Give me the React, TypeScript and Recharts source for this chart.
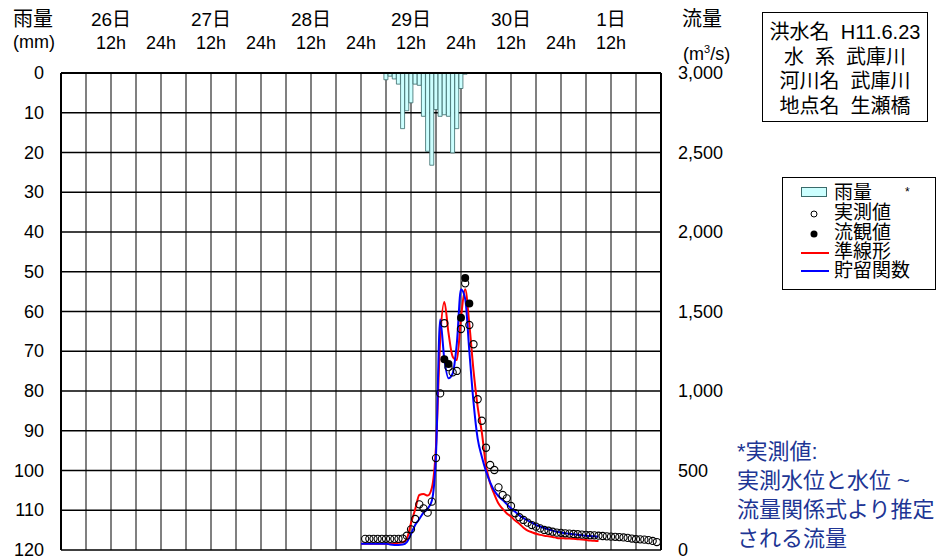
import React from 'react';
import { ComposedChart, Bar, Line, Scatter, XAxis, YAxis, CartesianGrid } from 'recharts';

// hours counted from 26日 0h
const dayLabels = ['26日', '27日', '28日', '29日', '30日', '1日'];
const xTicks = [0, 6, 12, 18, 24, 30, 36, 42, 48, 54, 60, 66, 72, 78, 84, 90, 96, 102, 108, 114, 120, 126, 132, 138, 144];
const rainTicks = [0, 10, 20, 30, 40, 50, 60, 70, 80, 90, 100, 110, 120];
const flowTicks = [0, 500, 1000, 1500, 2000, 2500, 3000];

// hourly rainfall (mm), from 29日 6h
const rainStartHour = 78;
const rainfall = [1.7, 0.8, 1.5, 2.8, 14, 9.5, 7.5, 2.8, 3.1, 10.9, 19.7, 23.2, 9.2, 10.9, 10.5, 10.9, 20.1, 14, 3.9, 0.3];

// 実測値 (m3/s), hourly
const obsStartHour = 73;
const observed = [
  70, 70, 70, 70, 70, 70, 70, 70, 70, 72,
  90, 130, 195, 287, 262, 235, 304, 578, 985, 1426,
  1150, 1117, 1126, 1390, 1677, 1415, 1294, 948, 813, 643,
  535, 503, 394, 346, 325, 277, 231, 206, 189, 172,
  157, 147, 136, 126, 121, 115, 109, 108, 105, 103,
  101, 99, 97, 95, 93, 92, 90, 88, 86, 84,
  83, 81, 79, 76, 72, 68, 67, 65, 62, 57, 50,
];

// 流観値
const gaugedHours = [92, 93, 96, 97, 98];
const gaugedFlow = [1200, 1170, 1460, 1710, 1550];

// computed hydrographs, hourly
const calcStartHour = 72;
const quasiLinear = [
  40, 40, 40, 40, 40, 40, 40, 40, 42, 45,
  48, 70, 170, 255, 346, 352, 342, 390, 650, 1320,
  1560, 1365, 1216, 1195, 1460, 1640, 1420, 1130, 900, 740,
  530, 420, 350, 292, 258, 230, 210, 185, 165, 140,
  122, 112, 102, 95, 90, 86, 82, 76, 74, 73,
  72, 70, 68, 66, 63, 60, 58, 56,
];
const storageFunc = [
  40, 40, 40, 40, 40, 40, 40, 34, 32, 32,
  34, 50, 100, 157, 195, 235, 260, 310, 600, 1450,
  1200, 1080, 1110, 1300, 1640, 1580, 1250, 930, 700, 587,
  495, 425, 372, 338, 314, 288, 262, 240, 218, 200,
  186, 172, 158, 148, 138, 130, 122, 115, 110, 106,
  102, 99, 96, 93, 90, 88, 86, 84,
];

const rows: any[] = quasiLinear.map((v, i) => ({ t: calcStartHour + i, red: v, blue: storageFunc[i] }));
rainfall.forEach((v, i) => {
  const row = rows.find((r) => r.t === rainStartHour + i);
  if (row) row.rain = v;
});

const obsData = observed.map((q, i) => ({ t: obsStartHour + i, q }));
const gaugedData = gaugedHours.map((t, i) => ({ t, q: gaugedFlow[i] }));

const FONT = '"Liberation Sans", Arial, "Noto Sans CJK JP", sans-serif';

const HourTick = (props: any) => {
  const { x, payload } = props;
  const v = payload.value;
  if (v % 12 !== 0 || v <= 0 || v >= 144) return <g />;
  const noon = v % 24 === 12;
  return (
    <g fontFamily={FONT} fill="#000">
      {noon && (
        <text x={x} y={19} textAnchor="middle" dominantBaseline="central" fontSize={19}>
          {dayLabels[(v - 12) / 24]}
        </text>
      )}
      <text x={x} y={43} textAnchor="middle" dominantBaseline="central" fontSize={18}>
        {noon ? '12h' : '24h'}
      </text>
    </g>
  );
};

const RainTick = (props: any) => (
  <text x={44} y={props.y} textAnchor="end" dominantBaseline="central" fontSize={18} fontFamily={FONT} fill="#000">
    {props.payload.value}
  </text>
);

const FlowTick = (props: any) => (
  <text x={678} y={props.y} textAnchor="start" dominantBaseline="central" fontSize={18} fontFamily={FONT} fill="#000">
    {props.payload.value.toLocaleString('en-US')}
  </text>
);

const HollowDot = (p: any) => <circle cx={p.cx} cy={p.cy} r={3.6} fill="none" stroke="#000" strokeWidth={1.1} />;
const SolidDot = (p: any) => <circle cx={p.cx} cy={p.cy} r={4} fill="#000" />;

const abs = (left: number, top: number, extra: any = {}) => ({ position: 'absolute' as const, left, top, ...extra });

export default function App() {
  return (
    <div style={{ position: 'absolute', left: 0, top: 0, width: 944, height: 559, background: '#fff', fontFamily: FONT, color: '#000', overflow: 'hidden' }}>
      <ComposedChart width={944} height={559} data={rows} margin={{ top: 13, right: 223, bottom: 9, left: 0 }}>
        <CartesianGrid yAxisId="rain" horizontal={false} stroke="#808080" strokeWidth={2} />
        <CartesianGrid yAxisId="rain" vertical={false} stroke="#000" strokeWidth={1.5} />
        <XAxis
          dataKey="t"
          type="number"
          domain={[0, 144]}
          ticks={xTicks}
          interval={0}
          orientation="top"
          height={60}
          tickLine={false}
          axisLine={{ stroke: '#000', strokeWidth: 2 }}
          tick={<HourTick />}
        />
        <YAxis
          yAxisId="rain"
          domain={[0, 120]}
          reversed
          ticks={rainTicks}
          interval={0}
          width={61}
          tickLine={false}
          tickSize={0}
          axisLine={{ stroke: '#000', strokeWidth: 2 }}
          tick={<RainTick />}
        />
        <YAxis
          yAxisId="q"
          orientation="right"
          domain={[0, 3000]}
          ticks={flowTicks}
          interval={0}
          width={60}
          tickLine={false}
          tickSize={0}
          axisLine={{ stroke: '#000', strokeWidth: 2 }}
          tick={<FlowTick />}
        />
        <Bar yAxisId="rain" dataKey="rain" barSize={4} fill="#ccffff" stroke="#3a6a6a" strokeWidth={0.8} isAnimationActive={false} />
        <Line yAxisId="q" type="monotone" dataKey="red" stroke="#ff0000" strokeWidth={2} dot={false} connectNulls isAnimationActive={false} />
        <Line yAxisId="q" type="monotone" dataKey="blue" stroke="#0000ff" strokeWidth={2} dot={false} connectNulls isAnimationActive={false} />
        <Scatter yAxisId="q" data={obsData} dataKey="q" shape={HollowDot} isAnimationActive={false} />
        <Scatter yAxisId="q" data={gaugedData} dataKey="q" shape={SolidDot} isAnimationActive={false} />
      </ComposedChart>

      <div style={abs(13, 8, { fontSize: 20, lineHeight: '22px' })}>雨量</div>
      <div style={abs(13, 31, { fontSize: 18, lineHeight: '22px' })}>(mm)</div>
      <div style={abs(682, 8, { fontSize: 20, lineHeight: '22px' })}>流量</div>
      <div style={abs(683, 38, { fontSize: 18, lineHeight: '22px' })}>
        (m<sup style={{ fontSize: 11 }}>3</sup>/s)
      </div>

      <div style={abs(762, 12, { width: 164, height: 101, border: '1px solid #000', textAlign: 'center', fontSize: 20, lineHeight: '24.7px', paddingTop: 7, whiteSpace: 'pre' })}>
        <div>{'洪水名  H11.6.23'}</div>
        <div>{'水  系  武庫川'}</div>
        <div>{'河川名  武庫川'}</div>
        <div>{'地点名  生瀬橋'}</div>
      </div>

      <div style={abs(782, 177, { width: 152, height: 111, border: '1px solid #000' })}>
        <div style={abs(18, 9, { width: 26, height: 10, background: '#ccffff', border: '1px solid #3a6a6a', boxSizing: 'border-box' })} />
        <div style={abs(51, 4, { fontSize: 19, lineHeight: '22px' })}>雨量</div>
        <div style={abs(122, 7, { fontSize: 12, lineHeight: '14px' })}>*</div>
        <svg style={abs(0, 0)} width={50} height={111}>
          <circle cx={31} cy={36} r={3} fill="none" stroke="#000" strokeWidth={1} />
          <circle cx={31} cy={56} r={3.5} fill="#000" />
          <line x1={18} x2={46} y1={75} y2={75} stroke="#ff0000" strokeWidth={2} />
          <line x1={18} x2={46} y1={93} y2={93} stroke="#0000ff" strokeWidth={2} />
        </svg>
        <div style={abs(51, 24, { fontSize: 19, lineHeight: '22px' })}>実測値</div>
        <div style={abs(51, 44, { fontSize: 19, lineHeight: '22px' })}>流観値</div>
        <div style={abs(51, 63, { fontSize: 19, lineHeight: '22px' })}>準線形</div>
        <div style={abs(51, 82, { fontSize: 19, lineHeight: '22px' })}>貯留関数</div>
      </div>

      <div style={abs(737, 437, { fontSize: 22, lineHeight: '29px', color: '#203594', whiteSpace: 'pre' })}>
        <div>{'*実測値:'}</div>
        <div>{'実測水位と水位 ~'}</div>
        <div>{'流量関係式より推定'}</div>
        <div>{'される流量'}</div>
      </div>
    </div>
  );
}
